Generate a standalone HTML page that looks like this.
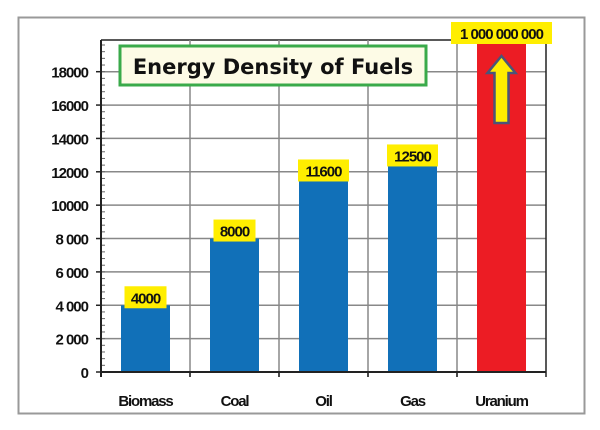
<!DOCTYPE html>
<html><head><meta charset="utf-8"><style>
body{margin:0;background:#fff}
svg{display:block}
</style></head><body>
<svg width="600" height="430" viewBox="0 0 600 430" font-family="Liberation Sans, sans-serif">
<rect x="18.5" y="17.5" width="566" height="396" fill="#fff" stroke="#999" stroke-width="2"/>
<g id="grid"></g>
<g id="bars"></g>
<g id="axis"></g>
<g>
<rect x="120" y="46" width="306" height="39" fill="#fdfbe6" stroke="#3aaa4a" stroke-width="3"/>
<text x="273" y="74" text-anchor="middle" font-family="DejaVu Sans, sans-serif" font-weight="bold" font-size="21" fill="#111">Energy Density of Fuels</text>
</g>
<script>
const categories=["Biomass","Coal","Oil","Gas","Uranium"];
const values=[4000,8000,11600,12500,1000000000];
const valueLabels=["4000","8000","11600","12500","1 000 000 000"];
const yTicks=[0,2000,4000,6000,8000,10000,12000,14000,16000,18000];
const yTickLabels=["0","2 000","4 000","6 000","8 000","10000","12000","14000","16000","18000"];
const NS="http://www.w3.org/2000/svg";
const X0=101,X1=546,Y0=372,YTOP=40,YMAX=19900;
const y=v=>Y0-(Math.min(v,YMAX)/YMAX)*(Y0-YTOP);
const band=(X1-X0)/categories.length;
const x=i=>X0+i*band;
function mk(p,tag,a){const e=document.createElementNS(NS,tag);for(const k in a)e.setAttribute(k,a[k]);p.appendChild(e);return e;}
const grid=document.getElementById('grid'),bars=document.getElementById('bars'),axis=document.getElementById('axis');
yTicks.forEach((t,i)=>{if(t>0){const l=mk(grid,'line',{x1:X0,x2:X1,y1:y(t),y2:y(t),stroke:'#888','stroke-width':1.5});

}
const tx=mk(axis,'text',{x:88,y:y(t)+6,'text-anchor':'end','font-size':15,'font-weight':'bold','letter-spacing':'-1',fill:'#111'});tx.textContent=yTickLabels[i];


mk(axis,'line',{x1:96,x2:X0,y1:y(t),y2:y(t),stroke:'#222','stroke-width':1.5});});
for(let v=0;v<=YMAX;v+=400){mk(axis,'line',{x1:X0,x2:X0+4,y1:y(v),y2:y(v),stroke:'#666','stroke-width':1});}
mk(grid,'line',{x1:X0,x2:X1,y1:YTOP,y2:YTOP,stroke:'#222','stroke-width':1.5});
for(let i=1;i<=categories.length;i++){const l=mk(grid,'line',{x1:x(i),x2:x(i),y1:YTOP,y2:Y0+5,stroke:i==categories.length?'#222':'#888','stroke-width':1.5});

}
categories.forEach((c,i)=>{
const bw=49,bx=x(i)+(band-bw)/2,top=y(values[i]),big=values[i]>YMAX;
const r=mk(bars,'rect',{x:bx,y:top,width:bw,height:Y0-top,fill:big?'#ec1c24':'#1170b8'});


const lw=big?101:(valueLabels[i].length*9+6),lx=x(i)+band/2-lw/2,ly=big?22:top-19;
const g=mk(bars,'g',{});


mk(g,'rect',{x:lx,y:ly,width:lw,height:22,fill:'#ffee00'});
const t=mk(g,'text',{x:x(i)+band/2,y:ly+17,'text-anchor':'middle','font-size':15,'font-weight':'bold','letter-spacing':'-1',fill:'#111'});t.textContent=valueLabels[i];
if(big){const cx=x(i)+band/2;const a=mk(bars,'polygon',{points:`${cx},${top+16} ${cx+14},${top+33} ${cx+7},${top+33} ${cx+7},${top+83} ${cx-7},${top+83} ${cx-7},${top+33} ${cx-14},${top+33}`,fill:'#ffee00',stroke:'#4a5578','stroke-width':2.5});

}
const xl=mk(axis,'text',{x:x(i)+band/2,y:406,'text-anchor':'middle','font-size':15,'font-weight':'bold','letter-spacing':'-1.2',fill:'#111'});xl.textContent=c;


mk(axis,'line',{x1:x(i),x2:x(i),y1:Y0,y2:Y0+5,stroke:'#222','stroke-width':1.5});
});
const xa=mk(axis,'line',{x1:X0,x2:X1,y1:Y0,y2:Y0,stroke:'#222','stroke-width':2});


const ya=mk(axis,'line',{x1:X0,x2:X0,y1:YTOP,y2:Y0+5,stroke:'#222','stroke-width':2});


</script>
</svg>
</body></html>
